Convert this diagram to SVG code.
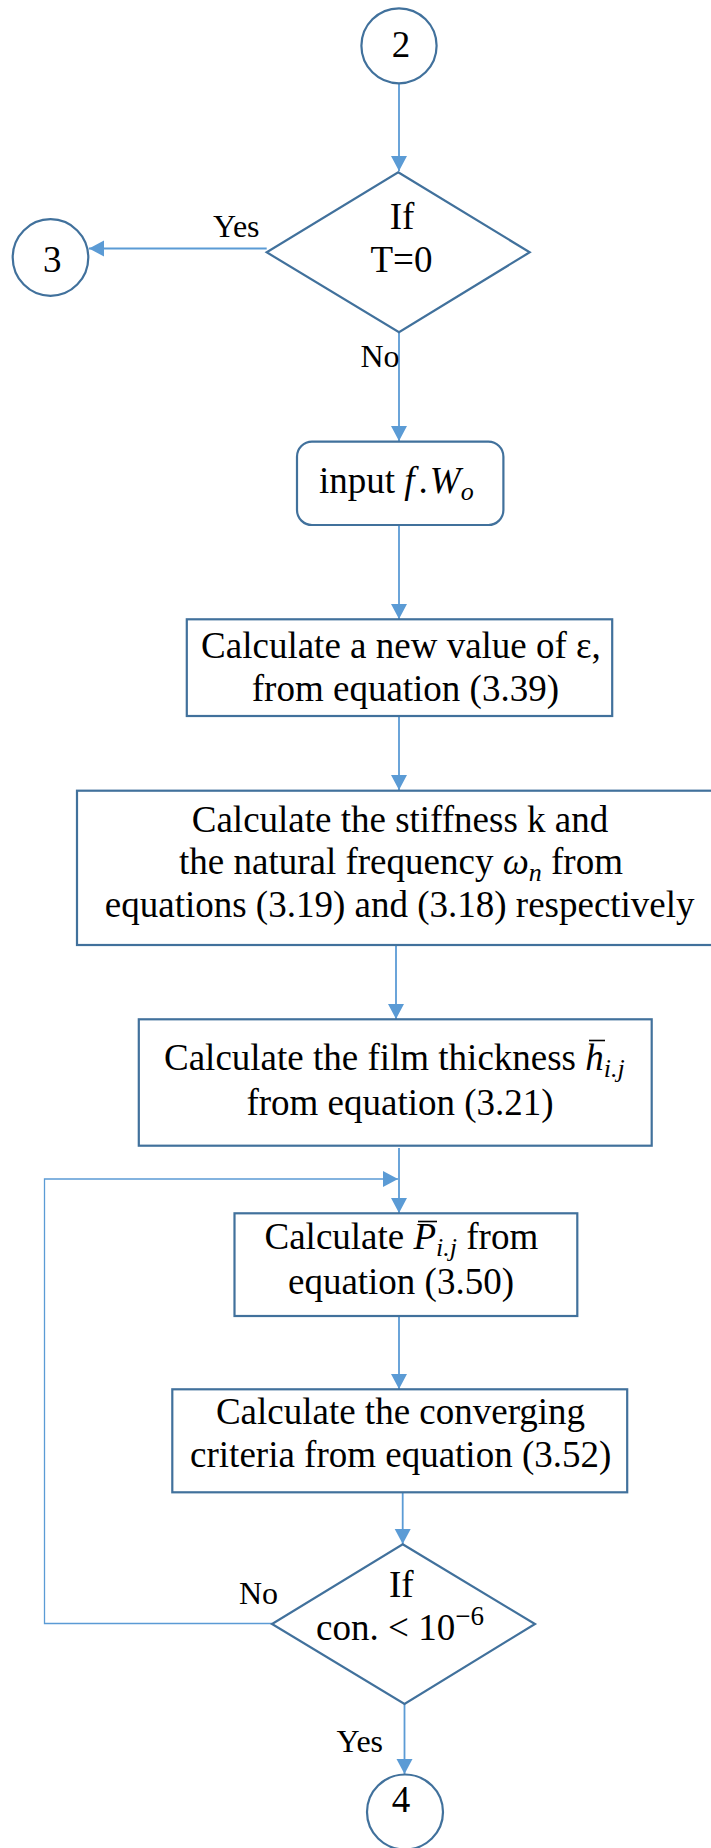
<svg xmlns="http://www.w3.org/2000/svg" width="711" height="1848" viewBox="0 0 711 1848">
<style>
.n{fill:#fff;stroke:#41719C;stroke-width:2.2}
.c{fill:none;stroke:#5B9BD5;stroke-width:1.8}
.l{fill:none;stroke:#5B9BD5;stroke-width:1.3}
.bar{stroke:#000;stroke-width:1.6}
text{font-family:"Liberation Serif","Times New Roman",serif;font-size:37px;fill:#000}
.m{text-anchor:middle}
.lb{font-size:32px}
.i{font-style:italic}
.s{font-size:26px;font-style:italic}
</style>
<defs>
<marker id="a" markerUnits="userSpaceOnUse" markerWidth="16" markerHeight="18" refX="15" refY="8" orient="auto">
<path d="M0,0 L15,8 L0,16 Z" fill="#5B9BD5"/>
</marker>
</defs>
<rect width="711" height="1848" fill="#fff"/>
<g id="connectors">
<line class="c" x1="399" y1="83.5" x2="399" y2="171" marker-end="url(#a)"/>
<line class="c" x1="266.7" y1="248.5" x2="89" y2="248.5" marker-end="url(#a)"/>
<line class="c" x1="399" y1="332.3" x2="399" y2="441" marker-end="url(#a)"/>
<line class="c" x1="399" y1="525" x2="399" y2="619" marker-end="url(#a)"/>
<line class="c" x1="399" y1="716" x2="399" y2="790" marker-end="url(#a)"/>
<line class="c" x1="396" y1="945" x2="396" y2="1019" marker-end="url(#a)"/>
<line class="c" x1="399" y1="1148" x2="399" y2="1213" marker-end="url(#a)"/>
<polyline class="l" points="272,1623.5 44.5,1623.5 44.5,1179 398,1179" marker-end="url(#a)"/>
<line class="c" x1="399" y1="1316" x2="399" y2="1389" marker-end="url(#a)"/>
<line class="c" x1="402.7" y1="1492.3" x2="402.7" y2="1544" marker-end="url(#a)"/>
<line class="c" x1="404.5" y1="1704" x2="404.5" y2="1774" marker-end="url(#a)"/>
<text class="lb" x="213" y="237">Yes</text>
<text class="lb" x="360.5" y="366.7">No</text>
<text class="lb" x="239" y="1604">No</text>
<text class="lb" x="336.5" y="1751.7">Yes</text>
</g>
<g id="c2">
<ellipse class="n" cx="399" cy="45.8" rx="37.6" ry="37.5"/>
<text class="m" x="401" y="56.7">2</text>
</g>
<g id="d1">
<polygon class="n" points="398.2,172.3 529.7,252.3 399,332.3 266.7,252.3"/>
<text class="m" x="402" y="229">If</text>
<text class="m" x="401.5" y="271.7">T=0</text>
</g>
<g id="c3">
<ellipse class="n" cx="50.5" cy="257.5" rx="37.8" ry="38.3"/>
<text class="m" x="52.3" y="271.7">3</text>
</g>
<g id="input">
<rect class="n" x="297" y="441.7" width="206.4" height="83.3" rx="15"/>
<text x="319" y="493">input <tspan class="i">f</tspan><tspan dx="4">.</tspan><tspan class="i" dx="2">W</tspan><tspan class="s" dy="7">o</tspan></text>
</g>
<g id="eps">
<rect class="n" x="186.8" y="619.3" width="425.4" height="96.7"/>
<text class="m" x="401" y="658.3">Calculate a new value of ε,</text>
<text class="m" x="405.4" y="701">from equation (3.39)</text>
</g>
<g id="stiff">
<rect class="n" x="77" y="790.7" width="640" height="154.3"/>
<text class="m" x="400" y="831.7">Calculate the stiffness k and</text>
<text class="m" x="401" y="874">the natural frequency <tspan class="i">ω</tspan><tspan class="s" dy="7">n</tspan><tspan dy="-7"> from</tspan></text>
<text class="m" x="399.7" y="916.7">equations (3.19) and (3.18) respectively</text>
</g>
<g id="film">
<rect class="n" x="138.8" y="1019.3" width="512.9" height="126.4"/>
<text x="164" y="1070">Calculate the film thickness <tspan class="i">h</tspan><tspan class="s" dy="7">i.j</tspan></text>
<line class="bar" x1="589" y1="1040.5" x2="605" y2="1040.5"/>
<text class="m" x="400" y="1115">from equation (3.21)</text>
</g>
<g id="press">
<rect class="n" x="234.5" y="1213.3" width="342.8" height="102.7"/>
<text x="264.5" y="1249">Calculate <tspan class="i">P</tspan><tspan class="s" dy="7">i.j</tspan><tspan dy="-7"> from</tspan></text>
<line class="bar" x1="418" y1="1221.5" x2="437" y2="1221.5"/>
<text class="m" x="401" y="1294">equation (3.50)</text>
</g>
<g id="conv">
<rect class="n" x="172.3" y="1389.3" width="454.9" height="103"/>
<text class="m" x="400.5" y="1424">Calculate the converging</text>
<text class="m" x="400.7" y="1466.7">criteria from equation (3.52)</text>
</g>
<g id="d2">
<polygon class="n" points="402.7,1544.3 535,1624 404.5,1704 272,1624"/>
<text class="m" x="401.3" y="1596.7">If</text>
<text class="m" x="400" y="1640">con. &lt; 10<tspan font-size="27" dy="-15">−6</tspan></text>
</g>
<g id="c4">
<ellipse class="n" cx="405" cy="1812" rx="38" ry="37.5"/>
<text class="m" x="401" y="1811.7">4</text>
</g>
</svg>
